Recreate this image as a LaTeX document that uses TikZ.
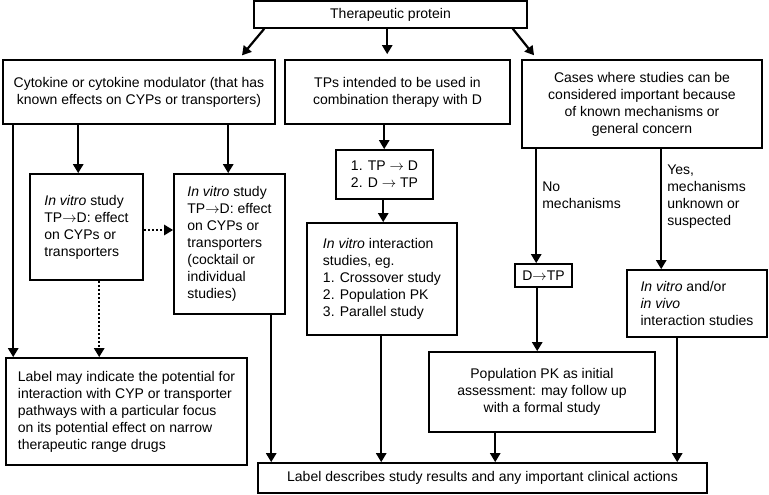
\documentclass[tikz,border=0pt]{standalone}
\usepackage{fontspec}
\setmainfont{Liberation Sans}
\usetikzlibrary{arrows.meta}
\begin{document}
\begin{tikzpicture}[x=1pt,y=-1pt]
            \tikzstyle{box}=[draw,line width=1.6pt,inner sep=0pt,align=center,font=\fontsize{14}{17}\selectfont]
            \tikzstyle{left box}=[box,align=left]
            \tikzstyle{arrow}=[line width=2.2pt,-{Triangle[length=9pt,width=10pt]}]
            \tikzstyle{dotted arrow}=[arrow,dash pattern=on 2pt off 2pt]
            \tikzstyle{edge label}=[right,align=left,inner sep=5pt,font=\fontsize{14}{17}\selectfont]

            \useasboundingbox (0,0) rectangle (769,495);

            % top row
            \node(tp)[box,minimum width=273,minimum height=27] at (390.5,14.5) {Therapeutic protein};
            \node(cyto)[box,minimum width=272,minimum height=64] at (139,92)
            {Cytokine or cytokine modulator (that has\\known effects on CYPs or transporters)};
            \node(tps)[box,minimum width=225,minimum height=64] at (397.5,92)
            {TPs intended to be used in\\combination therapy with D};
            \node(cases)[box,minimum width=240,minimum height=88] at (642,104)
            {Cases where studies can be\\considered important because\\of known mechanisms or\\general concern};

            % middle
            \node(iv1)[left box,minimum width=113,minimum height=106] at (86.5,227)
            {\textit{In vitro} study\\TP$\rightarrow$D: effect\\on CYPs or\\transporters};
            \node(iv2)[left box,minimum width=111,minimum height=140] at (229.5,244)
            {\textit{In vitro} study\\TP$\rightarrow$D: effect\\on CYPs or\\transporters\\(cocktail or\\individual\\studies)};
            \node(tp12)[left box,minimum width=97,minimum height=49] at (384.5,174.5)
            {1. TP $\rightarrow$ D\\2. D $\rightarrow$ TP};
            \node(ivi)[left box,minimum width=150,minimum height=112] at (382,279)
            {\textit{In vitro} interaction\\studies, eg.\\1. Crossover study\\2. Population PK\\3. Parallel study};
            \node(dtp)[box,minimum width=57,minimum height=23] at (543.5,275.5) {D$\rightarrow$TP};
            \node(ivv)[left box,minimum width=140,minimum height=67] at (697,303.5)
            {\textit{In vitro} and/or\\\textit{in vivo}\\interaction studies};

            % bottom
            \node(lab1)[left box,minimum width=241,minimum height=107] at (126.5,411.5)
            {Label may indicate the potential for\\interaction with CYP or transporter\\pathways with a particular focus\\on its potential effect on narrow\\therapeutic range drugs};
            \node(pk)[box,minimum width=226,minimum height=80] at (542,392)
            {Population PK as initial\\assessment: may follow up\\with a formal study};
            \node(res)[box,minimum width=449,minimum height=30] at (482.5,478)
            {Label describes study results and any important clinical actions};

            % connectors
            \draw[arrow,shorten >=5pt] ([xshift=11pt]tp.south west) -- ([xshift=-37pt]cyto.north east);
            \draw[arrow,shorten >=5pt] ([xshift=134pt]tp.south west) -- ([xshift=103pt]tps.north west);
            \draw[arrow,shorten >=5pt] ([xshift=-15pt]tp.south east) -- ([xshift=16pt]cases.north west);

            \draw[arrow] ([xshift=11pt]cyto.south west) -- ([xshift=8pt]lab1.north west);
            \draw[arrow] ([xshift=76pt]cyto.south west) -- ([xshift=49pt]iv1.north west);
            \draw[arrow] ([xshift=226pt]cyto.south west) -- ([xshift=55pt]iv2.north west);
            \draw[dotted arrow] ([yshift=-3pt]iv1.east) -- ([yshift=14pt]iv2.west);
            \draw[dotted arrow] ([xshift=70pt]iv1.south west) -- ([xshift=94pt]lab1.north west);
            \draw[arrow] ([xshift=98pt]iv2.south west) -- ([xshift=14pt]res.north west);

            \draw[arrow] ([xshift=100pt]tps.south west) -- ([xshift=49pt]tp12.north west);
            \draw[arrow] ([xshift=48pt]tp12.south west) -- ([xshift=77pt]ivi.north west);
            \draw[arrow] ([xshift=75pt]ivi.south west) -- ([xshift=124pt]res.north west);

            \draw[arrow] ([xshift=15pt]cases.south west) -- ([xshift=22pt]dtp.north west)
            node[edge label,pos=0.41]{No\\mechanisms};
            \draw[arrow] ([xshift=140pt]cases.south west) -- ([xshift=35pt]ivv.north west)
            node[edge label,pos=0.40]{Yes,\\mechanisms\\unknown or\\suspected};
            \draw[arrow] ([xshift=23pt]dtp.south west) -- ([xshift=109pt]pk.north west);
            \draw[arrow] ([xshift=67pt]pk.south west) -- ([xshift=238pt]res.north west);
            \draw[arrow] ([xshift=51pt]ivv.south west) -- ([xshift=420pt]res.north west);
        \end{tikzpicture}
\end{document}
